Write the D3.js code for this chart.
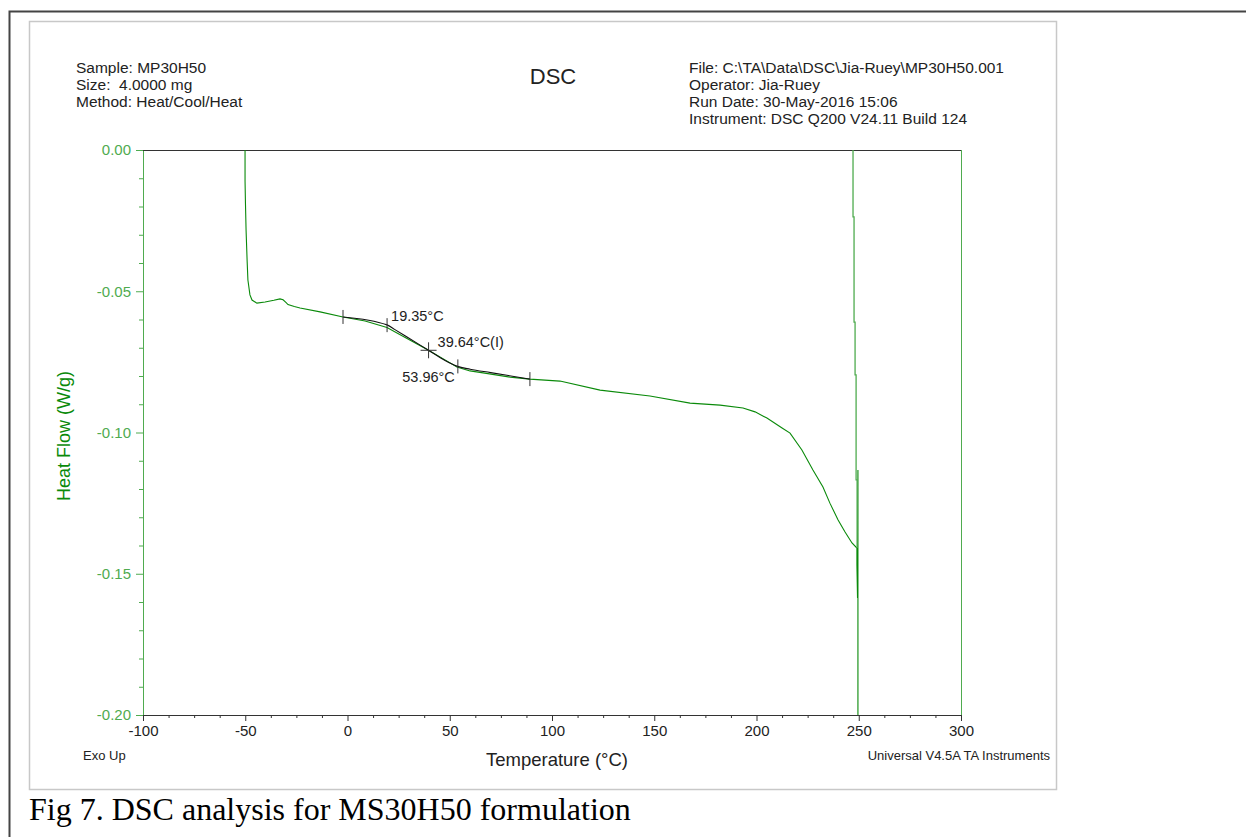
<!DOCTYPE html>
<meta charset='utf-8'>
<style>
  body { margin: 0; background: #fff; }
  text { font-family: 'Liberation Sans', Arial, sans-serif; white-space: pre; }
</style>
<svg width='1246' height='837'></svg>
<script src="https://d3js.org/d3.v7.min.js"></script>
<script>
  // heat flow trace (first heat), T in °C, heat flow in W/g
  var traceTemp = [-50.1, -50.1, -49.9, -49.6, -49.1, -48.7, -47.7, -46.7, -44.3, -40.3, -36.0, -33.0, -31.5, -30.0, -29.1, -26.0, -23.2,
    -13.4, -2.2, 8.6, 19.3, 29.1, 39.4, 47.7, 53.5, 59.9, 66.3, 79.5, 89.2, 103.9, 123.5, 147.9, 167.5, 182.2,
    193.4, 199.3, 205.1, 212.5, 216.4, 222.2, 227.6, 232.5, 235.9, 239.9, 243.3, 246.7, 249.1, 249.1, 249.4, 249.6, 249.6];
  var traceFlow = [0.000, -0.011, -0.0188, -0.0283, -0.0389, -0.046, -0.0513, -0.0531, -0.0542, -0.0538, -0.0532, -0.0527, -0.0530,
    -0.0540, -0.0547, -0.0554, -0.0559, -0.0573, -0.0591, -0.0605, -0.0628, -0.0667, -0.0708, -0.0743, -0.0768, -0.0782, -0.0789, -0.0804,
    -0.0811, -0.0818, -0.085, -0.0871, -0.0896, -0.0903, -0.0913, -0.0927, -0.0949, -0.0984, -0.1002, -0.1062, -0.1133,
    -0.1193, -0.125, -0.131, -0.1352, -0.1391, -0.1409, -0.1469, -0.1586, -0.1133, -0.200];

  // near-vertical trace segment at ~250 °C
  var stepTemp = [247.2, 247.2, 247.7, 247.7, 248.2, 248.2, 248.7, 248.7, 249.2, 249.2];
  var stepFlow = [0.000, -0.0237, -0.0237, -0.0609, -0.0609, -0.0796, -0.0796, -0.1168, -0.1168, -0.1409];

  // glass transition analysis overlay
  var tgTemp = [-2.2, 19.3, 23.0, 29.1, 39.4, 47.7, 53.5, 60.0, 70.0, 89.2];
  var tgFlow = [-0.0591, -0.0619, -0.0635, -0.0662, -0.0708, -0.0745, -0.0765, -0.0776, -0.0788, -0.0811];

  var tickTemp = [-2.2, 19.35, 53.96, 89.2];
  var tickFlow = [-0.0591, -0.0620, -0.0766, -0.0811];
  var inflTemp = 39.64, inflFlow = -0.0709;

  var xTicks = [-100, -50, 0, 50, 100, 150, 200, 250, 300];
  var yTicks = [0.00, -0.05, -0.10, -0.15, -0.20];

  var headerLeft = ['Sample: MP30H50', 'Size:  4.0000 mg', 'Method: Heat/Cool/Heat'];
  var headerRight = ['File: C:\\TA\\Data\\DSC\\Jia-Ruey\\MP30H50.001', 'Operator: Jia-Ruey',
    'Run Date: 30-May-2016 15:06', 'Instrument: DSC Q200 V24.11 Build 124'];

  var svg = d3.select('svg'),
    green = '#0a8a0a',
    axisGreen = '#4fab4f',
    dark = '#333';

  var x = d3.scaleLinear().domain([-100, 300]).range([143, 961]),
    y = d3.scaleLinear().domain([-0.20, 0.00]).range([715, 150]);

  // frames
  svg.append('path').attr('d', 'M9.5,837 L9.5,11.5 L1246,11.5')
    .attr('fill', 'none').attr('stroke', '#444').attr('stroke-width', 2);
  svg.append('rect').attr('x', 29.5).attr('y', 21.5).attr('width', 1027).attr('height', 768)
    .attr('fill', 'none').attr('stroke', '#c8c8c8').attr('stroke-width', 1.5);

  // header
  svg.append('g').selectAll('text').data(headerLeft).enter().append('text')
    .attr('x', 76).attr('y', function(d, i) { return 73 + i * 17; })
    .attr('font-size', 15.5).attr('fill', '#222').text(function(d) { return d; });
  svg.append('g').selectAll('text').data(headerRight).enter().append('text')
    .attr('x', 689).attr('y', function(d, i) { return 73 + i * 17; })
    .attr('font-size', 15.5).attr('fill', '#222').text(function(d) { return d; });
  svg.append('text').attr('x', 553).attr('y', 84).attr('text-anchor', 'middle')
    .attr('font-size', 22).attr('fill', '#222').text('DSC');

  // minor ticks
  var yMinor = d3.range(-20, 1).map(function(i) { return i / 100; })
    .filter(function(v) { return Math.round(v * 100) % 5 !== 0; });
  var xMinor = d3.range(-100, 301, 12.5).filter(function(v) { return v % 50 !== 0; });

  svg.append('g').attr('transform', 'translate(143,0)')
    .call(d3.axisLeft(y).tickValues(yMinor).tickSize(4).tickFormat(''))
    .call(function(g) { g.select('.domain').remove(); g.selectAll('line').attr('stroke', axisGreen); });
  svg.append('g').attr('transform', 'translate(0,715)')
    .call(d3.axisBottom(x).tickValues(xMinor).tickSize(3).tickFormat(''))
    .call(function(g) { g.select('.domain').remove(); g.selectAll('line').attr('stroke', dark); });

  // major axes
  var yAxis = svg.append('g').attr('transform', 'translate(143,0)')
    .call(d3.axisLeft(y).tickValues(yTicks).tickSize(7).tickSizeOuter(0).tickPadding(5)
      .tickFormat(function(d) { return d.toFixed(2); }));
  yAxis.select('.domain').attr('stroke', axisGreen);
  yAxis.selectAll('line').attr('stroke', axisGreen);
  yAxis.selectAll('text').attr('fill', axisGreen).style('font-size', '15px')
    .style('font-family', "'Liberation Sans', Arial, sans-serif");

  var xAxis = svg.append('g').attr('transform', 'translate(0,715)')
    .call(d3.axisBottom(x).tickValues(xTicks).tickSize(6).tickSizeOuter(0).tickPadding(4)
      .tickFormat(function(d) { return String(d); }));
  xAxis.select('.domain').attr('stroke', dark);
  xAxis.selectAll('line').attr('stroke', dark);
  xAxis.selectAll('text').attr('fill', '#222').style('font-size', '15px')
    .style('font-family', "'Liberation Sans', Arial, sans-serif");

  // top and right frame of plot
  svg.append('line').attr('x1', 143).attr('x2', 961).attr('y1', 150.5).attr('y2', 150.5).attr('stroke', dark);
  svg.append('line').attr('x1', 961.5).attr('x2', 961.5).attr('y1', 150).attr('y2', 715).attr('stroke', axisGreen);

  // axis titles
  svg.append('text').attr('transform', 'translate(70,436) rotate(-90)').attr('text-anchor', 'middle')
    .attr('font-size', 18).attr('fill', green).text('Heat Flow (W/g)');
  svg.append('text').attr('x', 557).attr('y', 766).attr('text-anchor', 'middle')
    .attr('font-size', 18.5).attr('fill', '#222').text('Temperature (°C)');
  svg.append('text').attr('x', 83).attr('y', 760).attr('font-size', 13).attr('fill', '#222').text('Exo Up');
  svg.append('text').attr('x', 1050).attr('y', 760).attr('text-anchor', 'end')
    .attr('font-size', 13).attr('fill', '#222').text('Universal V4.5A TA Instruments');

  // traces
  var line = d3.line().x(function(d) { return x(d[0]); }).y(function(d) { return y(d[1]); });
  svg.append('path').datum(d3.zip(traceTemp, traceFlow)).attr('d', line)
    .attr('fill', 'none').attr('stroke', green).attr('stroke-width', 1.1);
  svg.append('path').datum(d3.zip(stepTemp, stepFlow)).attr('d', line)
    .attr('fill', 'none').attr('stroke', axisGreen).attr('stroke-width', 1.3);
  svg.append('path').datum(d3.zip(tgTemp, tgFlow)).attr('d', line.curve(d3.curveMonotoneX))
    .attr('fill', 'none').attr('stroke', '#111').attr('stroke-width', 1.1);

  // analysis markers
  var marks = svg.append('g').attr('stroke', '#333').attr('stroke-width', 1);
  d3.zip(tickTemp, tickFlow).forEach(function(p) {
    marks.append('line').attr('x1', x(p[0])).attr('x2', x(p[0]))
      .attr('y1', y(p[1]) - 7).attr('y2', y(p[1]) + 7);
  });
  marks.append('line').attr('x1', x(inflTemp)).attr('x2', x(inflTemp))
    .attr('y1', y(inflFlow) - 8).attr('y2', y(inflFlow) + 8);
  marks.append('line').attr('x1', x(inflTemp) - 8).attr('x2', x(inflTemp) + 8)
    .attr('y1', y(inflFlow)).attr('y2', y(inflFlow));

  svg.append('text').attr('x', x(19.35) + 4).attr('y', y(-0.0620) - 4)
    .attr('font-size', 14.5).attr('fill', '#222').text('19.35°C');
  svg.append('text').attr('x', x(inflTemp) + 9).attr('y', y(inflFlow) - 3)
    .attr('font-size', 14.5).attr('fill', '#222').text('39.64°C(I)');
  svg.append('text').attr('x', x(53.96) - 3).attr('y', y(-0.0766) + 16).attr('text-anchor', 'end')
    .attr('font-size', 14.5).attr('fill', '#222').text('53.96°C');

  // caption
  svg.append('text').attr('x', 29).attr('y', 820).style('font-size', '32px')
    .style('font-family', "'Liberation Serif', 'Times New Roman', serif").attr('fill', '#000')
    .text('Fig 7. DSC analysis for MS30H50 formulation');
</script>
